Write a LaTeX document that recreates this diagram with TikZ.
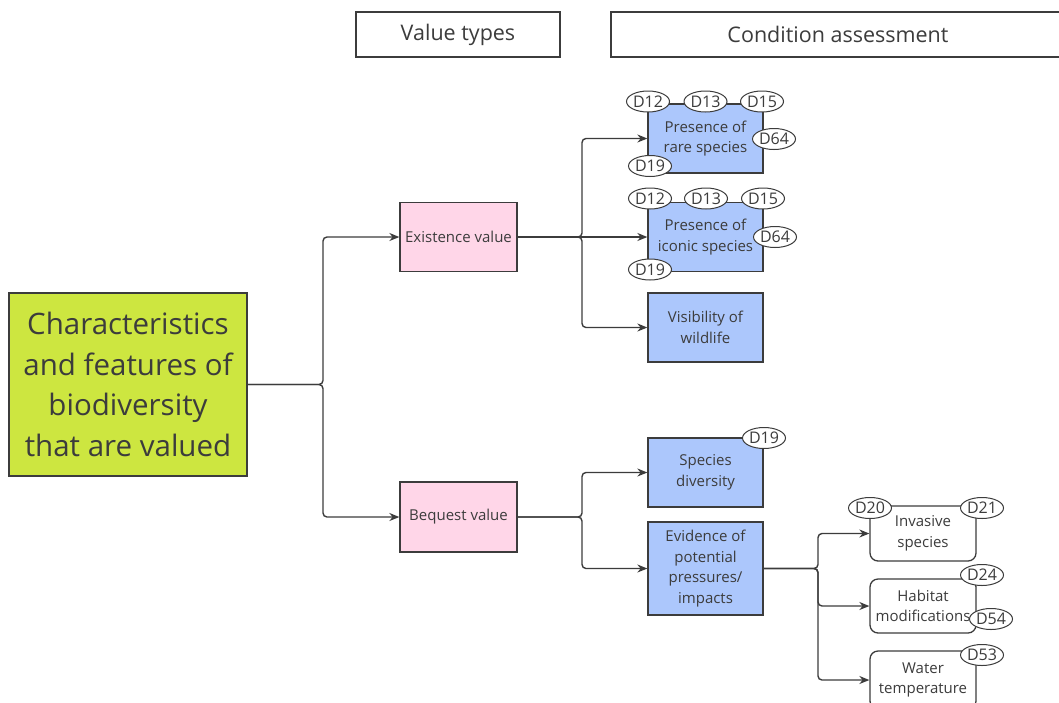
\documentclass[tikz,border=0pt]{standalone}
\usepackage{fontspec}
\setmainfont{Open Sans}
\usetikzlibrary{arrows.meta,shapes.geometric}
\definecolor{ink}{RGB}{60,60,60}
\definecolor{lime}{RGB}{205,230,64}
\definecolor{rose}{RGB}{255,214,232}
\definecolor{sky}{RGB}{172,199,252}
\tikzset{
  base/.style={draw=ink, line width=1.3pt, text=ink, align=center, inner sep=0pt},
  header/.style={base, fill=white, font=\fontsize{21.5}{24}\selectfont},
  rootbox/.style={base, fill=lime, font=\fontsize{29.5}{40.5}\selectfont},
  valuebox/.style={base, fill=rose, font=\fontsize{15}{20.5}\selectfont},
  condbox/.style={base, fill=sky, font=\fontsize{15}{20.5}\selectfont},
  pressbox/.style={base, fill=white, rounded corners=8pt, font=\fontsize{15}{20.5}\selectfont},
  ref/.style={ellipse, draw=ink, line width=1pt, fill=white, text=ink, inner sep=0pt,
    minimum width=43pt, minimum height=21pt, font=\fontsize{16}{17}\selectfont},
  link/.style={draw=ink, line width=1.4pt, rounded corners=4pt,
    -{Stealth[length=10pt,width=8pt]}},
}
\begin{document}
\begin{tikzpicture}[x=1pt,y=-1pt]
\useasboundingbox[fill=white] (0,0) rectangle (1059,702);

% column headers
\node[header, minimum width=204pt, minimum height=45pt] (vt) at (458,34.5) {\raisebox{-2.5pt}{Value types}};
\node[header, minimum width=454pt, minimum height=45pt] (ca) at (838,34.5) {\raisebox{-2.5pt}{Condition assessment}};

% root and value types
\node[rootbox, minimum width=238pt, minimum height=183pt] (root) at (128,384.5)
  {Characteristics\\and features of\\biodiversity\\that are valued};
\node[valuebox, minimum width=117pt, minimum height=69pt] (ex) at (458.5,237) {Existence value};
\node[valuebox, minimum width=117pt, minimum height=70pt] (bq) at (458.5,517) {Bequest value};

% condition indicators
\node[condbox, minimum width=115pt, minimum height=69pt] (rare) at (705.5,138.5) {Presence of\\rare species};
\node[condbox, minimum width=115pt, minimum height=69pt] (icon) at (705.5,237) {Presence of\\iconic species};
\node[condbox, minimum width=115pt, minimum height=69pt] (vis) at (705.5,327.5) {Visibility of\\wildlife};
\node[condbox, minimum width=115pt, minimum height=69pt] (div) at (705.5,472.5) {Species\\diversity};
\node[condbox, minimum width=115pt, minimum height=93pt] (evi) at (705.5,568.5) {Evidence of\\potential\\pressures/\\impacts};

% pressures
\node[pressbox, minimum width=106pt, minimum height=55pt] (inv) at (923,533.5) {Invasive\\species};
\node[pressbox, minimum width=106pt, minimum height=54pt] (hab) at (923,606) {Habitat\\modifications};
\node[pressbox, minimum width=106pt, minimum height=58pt] (wat) at (923,680) {Water\\temperature};

% junction points
\coordinate (jr) at (323,384.5);
\coordinate (je) at (582,237);
\coordinate (jb) at (582,517);
\coordinate (jp) at (818,568.5);

% connectors
\draw[link] (root.east) -- (jr) |- (ex.west);
\draw[link] (root.east) -- (jr) |- (bq.west);
\draw[link] (ex.east) -- (je) |- (rare.west);
\draw[link] (ex.east) -- (icon.west);
\draw[link] (ex.east) -- (je) |- (vis.west);
\draw[link] (bq.east) -- (jb) |- (div.west);
\draw[link] (bq.east) -- (jb) |- (evi.west);
\draw[link] (evi.east) -- (jp) |- (inv.west);
\draw[link] (evi.east) -- (jp) |- (hab.west);
\draw[link] (evi.east) -- (jp) |- (wat.west);

% data source references
\node[ref] (r12a) at (648,101.5) {D12};
\node[ref] (r13a) at (705.5,101.5) {D13};
\node[ref] (r15a) at (762,101.5) {D15};
\node[ref] (r64a) at (774,139) {D64};
\node[ref] (r19a) at (650,166) {D19};

\node[ref] (r12b) at (650,198.5) {D12};
\node[ref] (r13b) at (706,198.5) {D13};
\node[ref] (r15b) at (763,198.5) {D15};
\node[ref] (r64b) at (775,237) {D64};
\node[ref] (r19b) at (650,269.5) {D19};

\node[ref] (r19c) at (764,438) {D19};

\node[ref] (r20) at (870,508) {D20};
\node[ref] (r21) at (982,508) {D21};
\node[ref] (r24) at (982,575) {D24};
\node[ref] (r54) at (991,619) {D54};
\node[ref] (r53) at (982,655) {D53};
\end{tikzpicture}
\end{document}
